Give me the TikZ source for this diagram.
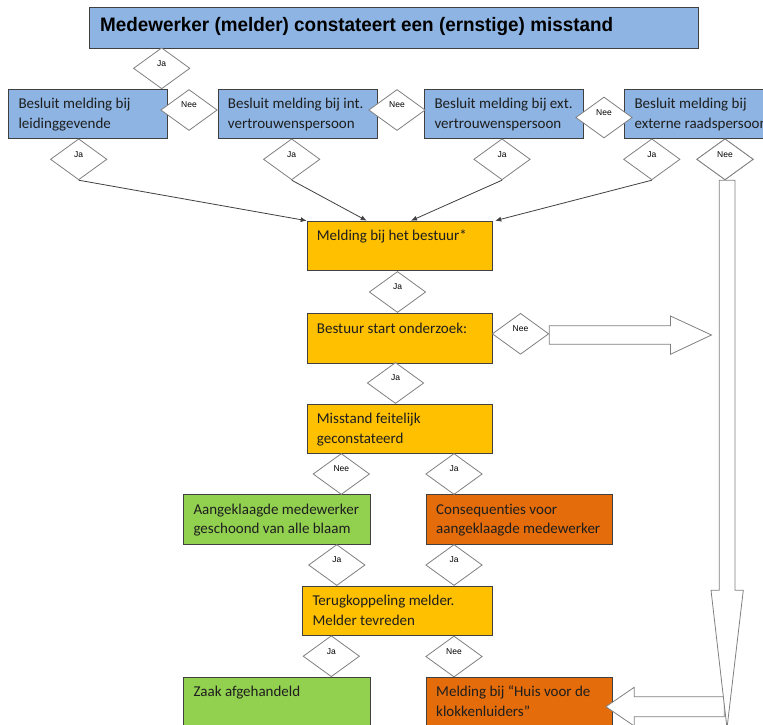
\documentclass[tikz,border=0pt]{standalone}
\usepackage{fontspec}
\setmainfont{Carlito}[Ligatures=NoCommon]
\newfontfamily\arialf{Liberation Sans}
\usepackage{graphicx}
\usetikzlibrary{shapes.geometric,arrows.meta,calc}
\definecolor{bluef}{RGB}{141,180,226}
\definecolor{goldf}{RGB}{255,192,0}
\definecolor{greenf}{RGB}{146,208,80}
\definecolor{orangef}{RGB}{228,108,10}
\definecolor{boxline}{RGB}{64,64,64}
\definecolor{diagray}{RGB}{128,128,128}
\definecolor{txt}{RGB}{30,30,30}
\tikzset{
 box/.style={draw=boxline, line width=0.9pt, inner sep=0, anchor=north west},
 boxtext/.style={anchor=north west, inner sep=0, align=left, text=txt, font=\fontsize{15}{19.7}\selectfont},
 dia/.style={diamond, draw=diagray, fill=white, line width=0.8pt, inner sep=0, minimum width=56.5pt, minimum height=41pt},
 lab/.style={inner sep=0, font=\arialf\fontsize{8.5}{10}\selectfont},
 conn/.style={draw=boxline, line width=0.8pt, -{Latex[length=6pt,width=5pt]}},
 blockarrow/.style={draw=diagray, fill=white, line width=0.8pt, line join=miter},
}
% name, x, y, w, h, colour, text
\newcommand\bx[7]{%
 \node[box, fill=#6, minimum width=#4pt, minimum height=#5pt] (#1) at (#2,#3) {};
 \node[boxtext] (#1t) at ($(#1.north west)+(10,7.5)$) {\rule{0pt}{12pt}#7};
}
% name, x, y, text
\newcommand\dm[4]{%
 \node[dia] (#1) at (#2,#3) {};
 \node[lab] (#1t) at ($(#1.center)+(0,-5)$) {#4};
}
\begin{document}
\begin{tikzpicture}[x=1pt,y=-1pt]
\useasboundingbox (0,0) rectangle (763,724);
\fill[white] (0,0) rectangle (763,724);
\clip (0,0) rectangle (763,724);

% title
\node[box, fill=bluef, minimum width=609pt, minimum height=40.4pt] (title) at (88.7,7.3) {};
\node[anchor=base west, inner sep=0, font=\arialf\bfseries\fontsize{19.5}{22}\selectfont] (titlet) at (100,31.3)
  {\scalebox{0.968}[1]{Medewerker (melder) constateert een (ernstige) misstand}};

% boxes
\bx{b1}{8.3}{89}{159}{49}{bluef}{Besluit melding bij\\leidinggevende}
\bx{b2}{217.7}{89}{159}{49}{bluef}{Besluit melding bij int.\\vertrouwenspersoon}
\bx{b3}{424.3}{89}{159}{49}{bluef}{Besluit melding bij ext.\\vertrouwenspersoon}
\bx{b4}{624.3}{89}{170}{49}{bluef}{Besluit melding bij\\externe raadspersoon}
\bx{mb}{306.7}{220.7}{185}{49.3}{goldf}{Melding bij het bestuur*}
\bx{bs}{306.7}{313.3}{185}{49.4}{goldf}{Bestuur start onderzoek:}
\bx{mf}{306.7}{404}{185}{49.3}{goldf}{Misstand feitelijk\\geconstateerd}
\bx{ag}{183.3}{494.3}{186.7}{49.4}{greenf}{Aangeklaagde medewerker\\geschoond van alle blaam}
\bx{cq}{426}{494.3}{185.7}{49.4}{orangef}{Consequenties voor\\aangeklaagde medewerker}
\bx{tk}{302.3}{585.7}{189.4}{49.3}{goldf}{Terugkoppeling melder.\\Melder tevreden}
\bx{za}{183.3}{676.7}{186.7}{55}{greenf}{Zaak afgehandeld}
\bx{mh}{426}{676.7}{185.7}{55}{orangef}{Melding bij “Huis voor de\\klokkenluiders”}

% diamonds
\dm{d0}{161.7}{68.3}{Ja}
\dm{n1}{189}{110}{Nee}
\dm{n2}{397}{110}{Nee}
\dm{n3}{604}{117.5}{Nee}
\dm{j1}{78.7}{159.3}{Ja}
\dm{j2}{291.7}{159.3}{Ja}
\dm{j3}{502}{159.3}{Ja}
\dm{j4}{651.8}{159.3}{Ja}
\dm{n4}{725}{159.3}{Nee}
\dm{j5}{397.5}{292}{Ja}
\dm{n5}{520.5}{333.8}{Nee}
\dm{j6}{395.5}{383}{Ja}
\dm{n6}{341.3}{474}{Nee}
\dm{j7}{454}{474}{Ja}
\dm{j8}{336.8}{565}{Ja}
\dm{j9}{454}{565}{Ja}
\dm{j10}{331.3}{656.2}{Ja}
\dm{n7}{454}{656.5}{Nee}

% connectors into "Melding bij het bestuur"
\coordinate (mb1) at (mb.north west);
\coordinate (mb2) at ($(mb.north west)+(60,0)$);
\coordinate (mb3) at ($(mb.north west)+(104.3,0)$);
\coordinate (mb4) at ($(mb.north east)+(2.6,0)$);
\draw[conn] (j1.south) -- (mb1);
\draw[conn] (j2.south) -- (mb2);
\draw[conn] (j3.south) -- (mb3);
\draw[conn] (j4.south) -- (mb4);

% block arrows
\begin{scope}[shift={(n5.east)}]
\draw[blockarrow] (0,-8.1) -- (121.3,-8.1) -- (121.3,-17.8) -- (162.3,1.2) -- (121.3,20.5) -- (121.3,10.5) -- (0,10.5) -- cycle;
\end{scope}
\begin{scope}[shift={(mh.north east)}]
\draw[blockarrow] (-6.7,30) -- (21.6,10.6) -- (21.6,20) -- (111.6,20) -- (111.6,40) -- (21.6,40) -- (21.6,49.3) -- cycle;
\end{scope}
\begin{scope}[shift={(n4.south)}]
\draw[blockarrow] (-5.7,0) -- (10,0) -- (10,410) -- (18.3,410) -- (2,548) -- (-14,410) -- (-5.7,410) -- cycle;
\end{scope}

% redraw the diamond on top of the vertical arrow start
\node[dia] (n4b) at (n4) {};
\node[lab] (n4bt) at ($(n4b.center)+(0,-5)$) {Nee};
\end{tikzpicture}
\end{document}
